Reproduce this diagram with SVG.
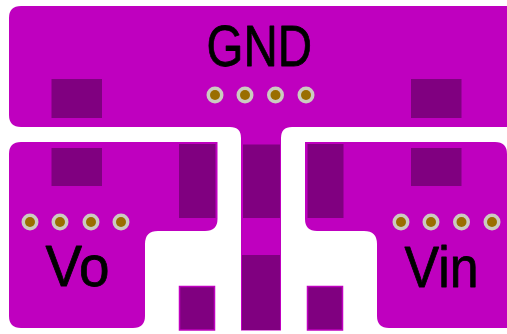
<svg xmlns="http://www.w3.org/2000/svg" width="507" height="334" viewBox="0 0 507 334">
<style>
.cu{fill:#bf00bf}
.pad{fill:#800080}
.pado{fill:#800080;stroke:#bf00bf;stroke-width:1.500}
.ring{fill:#cbcbc0}
.hole{fill:#9a6e00}
text{font-family:"Liberation Sans",Arial,sans-serif;font-size:58px;fill:#000;stroke:#000;stroke-width:.8;stroke-linejoin:round}
</style>
<rect width="507" height="334" fill="#fff"/>
<g id="gnd-plane">
<path class="cu" d="M21 6H507V127H292Q281 127 281 138V330.500H241V138Q241 127 230 127H21Q9 127 9 115V18Q9 6 21 6Z"/>
<rect class="pad" x="51.500" y="79" width="50.500" height="39"/>
<rect class="pad" x="411" y="79" width="50.500" height="39"/>
<rect class="pad" x="243" y="144.500" width="37" height="73.500"/>
<rect class="pad" x="242" y="255" width="38" height="75"/>
<text x="206.500" y="66" textLength="105.500" lengthAdjust="spacingAndGlyphs">GND</text>
<g id="gnd-vias">
<circle class="ring" cx="215" cy="95" r="8.500"/><circle class="hole" cx="215" cy="95" r="5"/>
<circle class="ring" cx="245" cy="95" r="8.500"/><circle class="hole" cx="245" cy="95" r="5"/>
<circle class="ring" cx="275.500" cy="95" r="8.500"/><circle class="hole" cx="275.500" cy="95" r="5"/>
<circle class="ring" cx="306" cy="95" r="8.500"/><circle class="hole" cx="306" cy="95" r="5"/>
</g>
</g>
<g id="vo-plane">
<path class="cu" d="M21 142H217.500V219Q217.500 231 205 231H158Q145 231 145 244V316Q145 328 133 328H21Q9 328 9 316V154Q9 142 21 142Z"/>
<rect class="pad" x="51.500" y="148" width="50.500" height="38"/>
<rect class="pad" x="179" y="144" width="36.500" height="74"/>
<text x="45.500" y="286" textLength="64" lengthAdjust="spacingAndGlyphs">Vo</text>
<g id="vo-vias">
<circle class="ring" cx="30" cy="222" r="8.500"/><circle class="hole" cx="30" cy="222" r="5"/>
<circle class="ring" cx="60" cy="222" r="8.500"/><circle class="hole" cx="60" cy="222" r="5"/>
<circle class="ring" cx="91" cy="222" r="8.500"/><circle class="hole" cx="91" cy="222" r="5"/>
<circle class="ring" cx="121" cy="222" r="8.500"/><circle class="hole" cx="121" cy="222" r="5"/>
</g>
</g>
<g id="vin-plane">
<path class="cu" d="M305 142H495Q507 142 507 154V328H389Q377 328 377 316V244Q377 231 364 231H317Q305 231 305 219Z"/>
<rect class="pad" x="411" y="148" width="50.500" height="38"/>
<rect class="pad" x="307.500" y="144" width="36" height="74"/>
<text x="404.500" y="287" textLength="74" lengthAdjust="spacingAndGlyphs">Vin</text>
<g id="vin-vias">
<circle class="ring" cx="401" cy="222" r="8.500"/><circle class="hole" cx="401" cy="222" r="5"/>
<circle class="ring" cx="431" cy="222" r="8.500"/><circle class="hole" cx="431" cy="222" r="5"/>
<circle class="ring" cx="461.500" cy="222" r="8.500"/><circle class="hole" cx="461.500" cy="222" r="5"/>
<circle class="ring" cx="492" cy="222" r="8.500"/><circle class="hole" cx="492" cy="222" r="5"/>
</g>
</g>
<g id="pad-left"><rect class="pado" x="179.500" y="286.500" width="35" height="43.500"/></g>
<g id="pad-right"><rect class="pado" x="307.500" y="286.500" width="35" height="43.500"/></g>
<g id="connectors"></g>
</svg>
